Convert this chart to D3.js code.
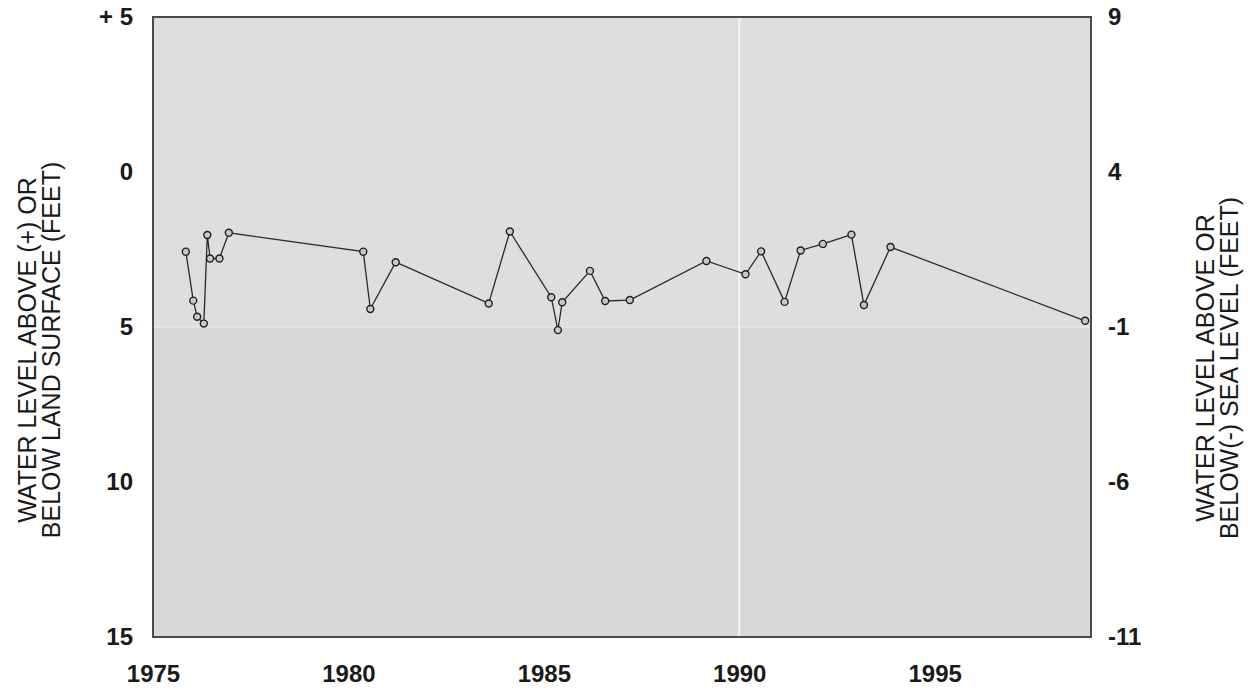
<!DOCTYPE html>
<html>
<head>
<meta charset="utf-8">
<script src="https://cdn.jsdelivr.net/npm/d3@7"></script>
<style>
  html, body { margin: 0; padding: 0; background: #ffffff; }
  svg { display: block; }
</style>
</head>
<body>
<svg id="chart" width="1248" height="692"></svg>
<script>
// Measurement dates (decimal years)
const years = [1975.84, 1976.03, 1976.13, 1976.30, 1976.39, 1976.46, 1976.70, 1976.94,
  1980.38, 1980.56, 1981.21, 1983.59, 1984.13, 1985.19, 1985.36, 1985.47, 1986.18,
  1986.57, 1987.20, 1989.16, 1990.16, 1990.56, 1991.16, 1991.57, 1992.14, 1992.87,
  1993.19, 1993.87, 1998.85];
// Depth to water below land surface (feet)
const depths = [2.57, 4.15, 4.67, 4.89, 2.03, 2.79, 2.79, 1.96,
  2.57, 4.42, 2.91, 4.24, 1.92, 4.04, 5.10, 4.20, 3.19,
  4.16, 4.13, 2.87, 3.30, 2.56, 4.19, 2.53, 2.32, 2.02,
  4.29, 2.42, 4.80];
const landSurfaceElevation = 4;
const leftTickValues = [-5, 0, 5, 10, 15];
const leftTickLabels = ["+ 5", "0", "5", "10", "15"];
const rightTickValues = [9, 4, -1, -6, -11];
const xTickValues = [1975, 1980, 1985, 1990, 1995];
const leftTitle = ["WATER LEVEL ABOVE (+) OR", "BELOW LAND SURFACE (FEET)"];
const rightTitle = ["WATER LEVEL ABOVE OR", "BELOW(-) SEA LEVEL (FEET)"];

const svg = d3.select("#chart");
const L = 153, R = 1091, T = 17, B = 637;

const x = d3.scaleLinear().domain([1975, 1999]).range([L, R]);
const y = d3.scaleLinear().domain([-5, 15]).range([T, B]);
const yR = d3.scaleLinear().domain([landSurfaceElevation + 5, landSurfaceElevation - 15]).range([T, B]);

// background
svg.append("rect").attr("x", L).attr("y", T).attr("width", R - L).attr("height", y(5) - T)
  .attr("fill", "#dedede");
svg.append("rect").attr("x", L).attr("y", y(5)).attr("width", R - L).attr("height", B - y(5))
  .attr("fill", "#d8d8d8");
svg.append("line").attr("x1", L).attr("x2", R).attr("y1", y(5)).attr("y2", y(5))
  .attr("stroke", "#e4e4e4").attr("stroke-width", 2);
svg.append("line").attr("x1", x(1990)).attr("x2", x(1990)).attr("y1", T).attr("y2", B)
  .attr("stroke", "#f4f4f4").attr("stroke-width", 2);
svg.append("rect").attr("x", L).attr("y", T).attr("width", R - L).attr("height", B - T)
  .attr("fill", "none").attr("stroke", "#4a4a4a").attr("stroke-width", 2);

const tickFont = "'Liberation Sans', Arial, sans-serif";
const tickSize = 24;

// left axis
const leftAxis = d3.axisLeft(y).tickValues(leftTickValues).tickSize(0).tickPadding(20)
  .tickFormat((d, i) => leftTickLabels[i]);
const gl = svg.append("g").attr("transform", `translate(${L},0)`).call(leftAxis);
gl.select(".domain").remove();
gl.selectAll("text").attr("font-family", tickFont).attr("font-size", tickSize).attr("font-weight", "bold").attr("fill", "#1a1a1a")
  .style("white-space", "pre");

// right axis
const rightAxis = d3.axisRight(yR).tickValues(rightTickValues).tickSize(0).tickPadding(17)
  .tickFormat(d => String(d));
const gr = svg.append("g").attr("transform", `translate(${R},0)`).call(rightAxis);
gr.select(".domain").remove();
gr.selectAll("text").attr("font-family", tickFont).attr("font-size", tickSize).attr("font-weight", "bold").attr("fill", "#1a1a1a");

// bottom axis
const bottomAxis = d3.axisBottom(x).tickValues(xTickValues).tickSize(0).tickPadding(28).tickFormat(d3.format("d"));
const gb = svg.append("g").attr("transform", `translate(0,${B})`).call(bottomAxis);
gb.select(".domain").remove();
gb.selectAll("text").attr("font-family", tickFont).attr("font-size", tickSize).attr("font-weight", "bold").attr("fill", "#1a1a1a");

// axis titles
const lt = svg.append("text").attr("transform", "translate(36,350) rotate(-90)")
  .attr("text-anchor", "middle").attr("font-family", tickFont).attr("font-size", 25).attr("fill", "#1a1a1a");
lt.selectAll("tspan").data(leftTitle).join("tspan").attr("x", 0).attr("dy", (d, i) => i === 0 ? 0 : 24).text(d => d);

const rt = svg.append("text").attr("transform", "translate(1214,368) rotate(-90)")
  .attr("text-anchor", "middle").attr("font-family", tickFont).attr("font-size", 25).attr("fill", "#1a1a1a");
rt.selectAll("tspan").data(rightTitle).join("tspan").attr("x", 0).attr("dy", (d, i) => i === 0 ? 0 : 24).text(d => d);

// data
const pts = years.map((yr, i) => ({ yr, d: depths[i] }));
svg.append("path").datum(pts)
  .attr("fill", "none").attr("stroke", "#2a2a2a").attr("stroke-width", 1.3)
  .attr("d", d3.line().x(p => x(p.yr)).y(p => y(p.d)));
svg.append("g").selectAll("circle").data(pts).join("circle")
  .attr("cx", p => x(p.yr)).attr("cy", p => y(p.d)).attr("r", 3.5)
  .attr("fill", "#c8c8c8").attr("stroke", "#1e1e1e").attr("stroke-width", 1.4);
</script>
</body>
</html>
